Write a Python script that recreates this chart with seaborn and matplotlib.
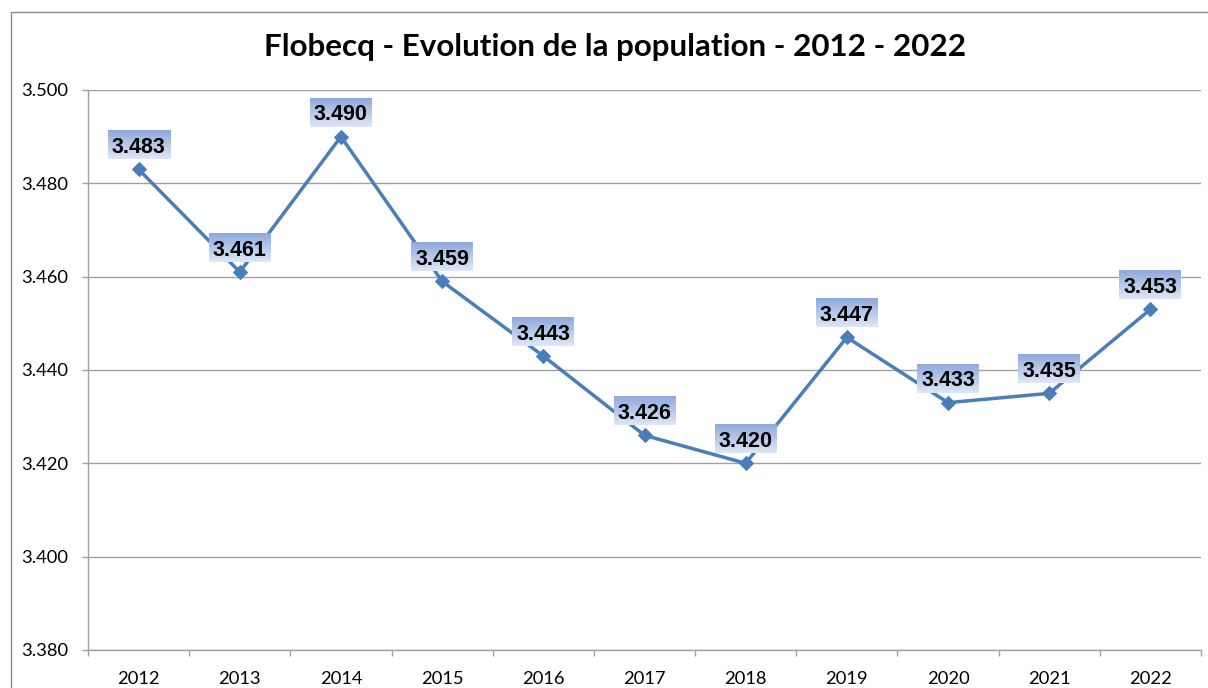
import numpy as np
import pandas as pd
import matplotlib
matplotlib.use("Agg")
import matplotlib.pyplot as plt
import seaborn as sns
from matplotlib.ticker import FuncFormatter, FixedLocator
from matplotlib.patches import Rectangle

years = ["2012", "2013", "2014", "2015", "2016", "2017", "2018", "2019", "2020", "2021", "2022"]
population = [3483, 3461, 3490, 3459, 3443, 3426, 3420, 3447, 3433, 3435, 3453]
y_ticks = [3380, 3400, 3420, 3440, 3460, 3480, 3500]
title = "Flobecq - Evolution de la population - 2012 - 2022"

sns.set_theme(style="white")
plt.rcParams['font.family'] = ['Lato', 'DejaVu Sans']

W, H, DPI = 1208, 688, 100
fig = plt.figure(figsize=(W / DPI, H / DPI), dpi=DPI)
fig.patch.set_facecolor("white")
ax = fig.add_axes([88 / W, 1 - 650 / H, (1201 - 88) / W, (650 - 90) / H])

df = pd.DataFrame({"pos": np.arange(len(years)), "year": years, "pop": population})
line_color = "#4A7EBB"
sns.lineplot(data=df, x="pos", y="pop", ax=ax, color=line_color, linewidth=2.5,
             marker="D", markersize=7.5, markeredgecolor=line_color, zorder=2)

ax.set_xlim(-0.5, len(years) - 0.5)
ax.set_ylim(y_ticks[0], y_ticks[-1])
ax.set_yticks(y_ticks)
ax.yaxis.set_major_formatter(FuncFormatter(lambda v, p: f"{v:,.0f}".replace(",", ".")))
ax.set_xticks(np.arange(len(years)))
ax.set_xticklabels(years)
ax.xaxis.set_minor_locator(FixedLocator(np.arange(-0.5, len(years), 1.0)))
ax.tick_params(axis="x", which="major", length=0, pad=15, labelsize=13.2, labelcolor="black")
ax.tick_params(axis="x", which="minor", length=4.3, width=1, color="#A0A0A0", direction="out", bottom=True)
ax.tick_params(axis="y", which="major", length=4.3, width=1, color="#A0A0A0", direction="out",
               left=True, pad=10, labelsize=13.2, labelcolor="black")
ax.set_xlabel("")
ax.set_ylabel("")
ax.grid(axis="y", color="#A0A0A0", linewidth=1)
ax.grid(axis="x", visible=False)
for s in ["top", "right"]:
    ax.spines[s].set_visible(False)
for s in ["left", "bottom"]:
    ax.spines[s].set_color("#A0A0A0")
    ax.spines[s].set_linewidth(1)
ax.set_axisbelow(True)

fig.text(615 / W, 1 - 47 / H, title, ha="center", va="center", fontsize=22.6,
         fontweight="bold", color="black")

# gradient label boxes
top_c = np.array([142, 169, 219]) / 255
bot_c = np.array([222, 231, 246]) / 255
t = np.linspace(0, 1, 64)[:, None]
grad = (top_c[None, :] * (1 - t) + bot_c[None, :] * t)[:, None, :]
grad = np.repeat(grad, 2, axis=1)

fig.canvas.draw()
inv = ax.transData.inverted()
bw, bh, off = 62, 29, 24.5
for i, v in enumerate(population):
    px, py = ax.transData.transform((i, v))
    cy = py + off
    x0, y0 = inv.transform((px - bw / 2, cy - bh / 2))
    x1, y1 = inv.transform((px + bw / 2, cy + bh / 2))
    ax.imshow(grad, extent=(x0, x1, y0, y1), aspect="auto", zorder=3, interpolation="bilinear")
    xt, yt = inv.transform((px, cy))
    ax.text(xt, yt, f"{v:,.0f}".replace(",", "."), ha="center", va="center_baseline",
            fontsize=15.5, fontweight="bold", family=["Liberation Sans", "DejaVu Sans"],
            color="black", zorder=4)

ax.set_xlim(-0.5, len(years) - 0.5)
ax.set_ylim(y_ticks[0], y_ticks[-1])

fig.patches.append(Rectangle((11 / W, -0.1), 1.2, (H - 12) / H + 0.1, transform=fig.transFigure,
                             fill=False, edgecolor="#8C8C8C", linewidth=1, figure=fig))

fig.savefig("out.png", dpi=DPI)
